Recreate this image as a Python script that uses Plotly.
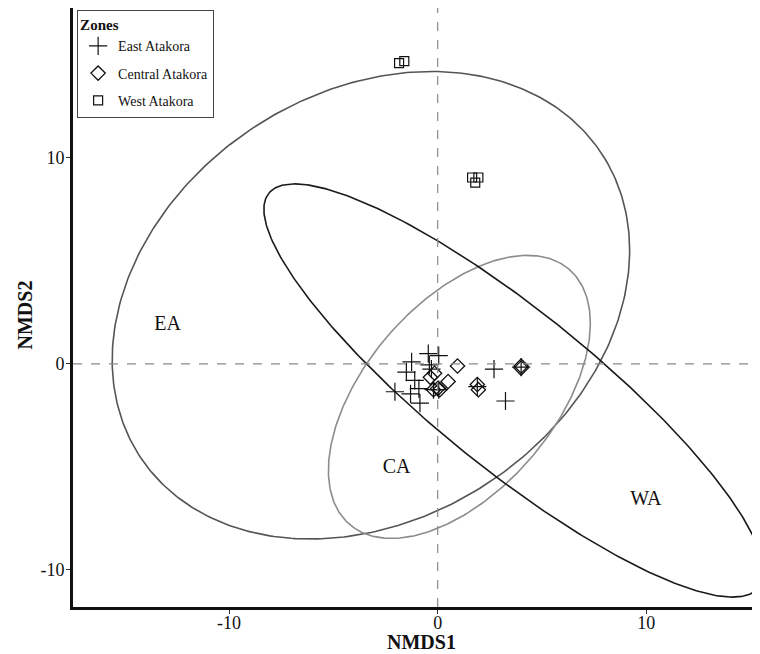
import numpy as np
import plotly.graph_objects as go

# ---- data ----
east_x = [-0.45, 0.05, -1.25, -1.5, -1.1, -0.3, -0.4, -2.05, -1.3, -0.9, -0.85, 2.7, 3.25, 4.0, 0.05, 1.9, -0.2]
east_y = [0.5, 0.4, 0.1, -0.4, -0.8, -0.25, -0.05, -1.35, -1.45, -1.2, -1.9, -0.25, -1.8, -0.15, -1.25, -1.1, -1.25]

central_x = [0.95, 0.5, -0.15, -0.35, -0.2, 0.1, 1.9, 1.95, 4.0, 4.0, 0.0]
central_y = [-0.1, -0.85, -0.45, -0.65, -1.25, -1.25, -1.0, -1.25, -0.1, -0.2, -1.2]

west_x = [-1.85, -1.6, 1.65, 1.95, 1.8]
west_y = [14.6, 14.7, 9.05, 9.05, 8.8]

# ellipse parameters (center, covariance) for EA, CA, WA
ell_names = ["EA", "CA", "WA"]
ell_cx = [-3.2, 1.04, 3.64]
ell_cy = [2.85, -1.6, -1.29]
ell_sxx = [153.8, 39.4, 143.3]
ell_syy = [128.8, 47.2, 100.6]
ell_sxy = [33.0, 22.4, -105.3]
ell_colors = ["#555555", "#8c8c8c", "#1a1a1a"]

label_text = ["EA", "CA", "WA"]
label_x = [-12.95, -1.97, 9.98]
label_y = [1.9, -5.05, -6.6]

xtick_vals = [-10, 0, 10]
ytick_vals = [-10, 0, 10]
tick_text = ["-10", "0", "10"]

FONT = "Liberation Serif, Times New Roman, serif"

fig = go.Figure()

# ellipses
t = np.linspace(0, 2 * np.pi, 361)
for i in range(3):
    l11 = np.sqrt(ell_sxx[i])
    l21 = ell_sxy[i] / l11
    l22 = np.sqrt(ell_syy[i] - l21 ** 2)
    ex = ell_cx[i] + l11 * np.cos(t)
    ey = ell_cy[i] + l21 * np.cos(t) + l22 * np.sin(t)
    fig.add_trace(go.Scatter(x=ex, y=ey, mode="lines", showlegend=False,
                             line=dict(color=ell_colors[i], width=1.6),
                             hoverinfo="skip"))

fig.add_trace(go.Scatter(x=east_x, y=east_y, mode="markers", name="East Atakora",
                         legendgroup="e",
                         marker=dict(symbol="cross-thin-open", size=13, color="#111111",
                                     line=dict(color="#111111", width=1.2))))
fig.add_trace(go.Scatter(x=central_x, y=central_y, mode="markers", name="Central Atakora",
                         legendgroup="c",
                         marker=dict(symbol="diamond-open", size=11, color="#111111",
                                     line=dict(color="#111111", width=1.3))))
fig.add_trace(go.Scatter(x=west_x, y=west_y, mode="markers", name="West Atakora",
                         legendgroup="w",
                         marker=dict(symbol="square-open", size=9, color="#111111",
                                     line=dict(color="#111111", width=1.2))))

fig.add_trace(go.Scatter(x=label_x, y=label_y, text=label_text, mode="text",
                         showlegend=False, textfont=dict(family=FONT, size=20, color="#111111"),
                         hoverinfo="skip"))

# dashed reference lines
fig.add_hline(y=0, line=dict(color="#8a8a8a", width=1.2, dash="dash"))
fig.add_vline(x=0, line=dict(color="#8a8a8a", width=1.2, dash="dash"))

# axis titles
fig.add_annotation(text="<b>NMDS1</b>", xref="paper", yref="paper", x=0.5, y=0,
                   xshift=5, yshift=-22, xanchor="center", yanchor="top", showarrow=False,
                   font=dict(family=FONT, size=20, color="#111111"))
fig.add_annotation(text="<b>NMDS2</b>", xref="paper", yref="paper", x=0, y=0.5,
                   xshift=-36, yshift=-8, xanchor="right", yanchor="middle", showarrow=False,
                   textangle=-90, font=dict(family=FONT, size=20, color="#111111"))

fig.update_layout(
    width=752, height=646,
    margin=dict(l=65, r=0, t=0, b=47),
    paper_bgcolor="white", plot_bgcolor="white",
    font=dict(family=FONT, color="#111111"),
    showlegend=True,
    legend=dict(
        title=dict(text="<b>Zones</b>", font=dict(family=FONT, size=15)),
        font=dict(family=FONT, size=14),
        x=0.006, y=0.997, xanchor="left", yanchor="top",
        bordercolor="#444444", borderwidth=1, bgcolor="white",
        itemwidth=30, tracegroupgap=6,
    ),
    xaxis=dict(
        range=[-17.48, 15.45], showgrid=False, zeroline=False, automargin=False,
        showline=True, linecolor="#111111", linewidth=3,
        ticks="outside", ticklen=4, tickwidth=1, tickcolor="#333333",
        tickvals=xtick_vals, ticktext=tick_text, ticklabelstandoff=-7,
        tickfont=dict(family=FONT, size=18, color="#111111"),
    ),
    yaxis=dict(
        range=[-11.8, 17.28], showgrid=False, zeroline=False, automargin=False,
        showline=True, linecolor="#111111", linewidth=3,
        ticks="outside", ticklen=4, tickwidth=1, tickcolor="#333333",
        tickvals=ytick_vals, ticktext=tick_text, ticklabelstandoff=-2,
        tickfont=dict(family=FONT, size=18, color="#111111"),
    ),
)

fig.write_html("out.html")
